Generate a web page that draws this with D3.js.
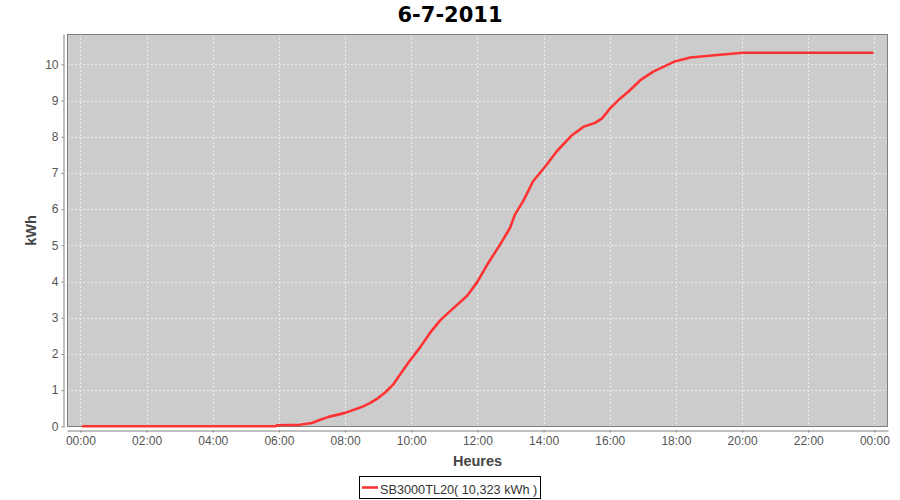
<!DOCTYPE html>
<html>
<head>
<meta charset="utf-8">
<script src="https://cdn.jsdelivr.net/npm/d3@7"></script>
<style>
  html, body { margin: 0; padding: 0; background: #ffffff; }
  svg { display: block; }
</style>
</head>
<body>
<div id="chart"></div>
<script>
// ---- data ----
const chartTitle = "6-7-2011";
const xLabel = "Heures";
const yLabel = "kWh";
const seriesName = "SB3000TL20( 10,323 kWh )";

const times = ["00:03","05:54","05:57","06:38","07:00","07:15","07:30","08:00","08:30","08:45",
  "09:00","09:13","09:27","09:40","09:55","10:16","10:34","10:52","11:11","11:41",
  "11:59","12:20","12:41","12:59","13:08","13:23","13:41","14:03","14:24","14:52",
  "15:13","15:34","15:46","16:01","16:19","16:34","16:56","17:19","17:56","18:26",
  "18:56","19:14","19:47","20:00","23:58"];
const energy = [0,0,0.03,0.04,0.09,0.18,0.26,0.37,0.53,0.64,
  0.78,0.94,1.15,1.44,1.76,2.18,2.58,2.92,3.19,3.60,
  3.97,4.52,5.02,5.48,5.85,6.22,6.77,7.18,7.60,8.05,
  8.28,8.39,8.51,8.79,9.06,9.25,9.57,9.80,10.07,10.19,
  10.23,10.26,10.30,10.32,10.323];
const yTicks = [0,1,2,3,4,5,6,7,8,9,10];

// ---- layout ----
const W = 900, H = 500;
const plot = { left: 67, right: 888, top: 34, bottom: 427 };
const axisOffset = 4;
const fontReg = "'Liberation Sans', Arial, sans-serif";
const fontBold = "'DejaVu Sans', sans-serif";

const day = "2011-07-06";
const parse = d3.timeParse("%Y-%m-%d %H:%M");
const data = times.map((t, i) => ({ t: parse(day + " " + t), v: energy[i] }));

const t0 = parse(day + " 00:00");
const x = d3.scaleTime()
  .domain([new Date(t0.getTime() - 0.405 * 3600e3), new Date(t0.getTime() + 24.41 * 3600e3)])
  .range([plot.left, plot.right]);
const y = d3.scaleLinear().domain([-0.02, 10.84]).range([plot.bottom, plot.top]);

const svg = d3.select("#chart").append("svg").attr("width", W).attr("height", H);
svg.append("rect").attr("width", W).attr("height", H).attr("fill", "#ffffff");

// plot background
svg.append("rect")
  .attr("x", plot.left).attr("y", plot.top)
  .attr("width", plot.right - plot.left).attr("height", plot.bottom - plot.top)
  .attr("fill", "#cccccc");

const xTickVals = d3.timeHour.every(2).range(t0, new Date(t0.getTime() + 24 * 3600e3 + 1));

// gridlines
const grid = svg.append("g").attr("stroke", "#f2f2f2").attr("stroke-width", 0.8)
  .attr("stroke-dasharray", "2,2");
grid.selectAll("line.vx").data(xTickVals).join("line")
  .attr("x1", d => Math.round(x(d)) + 0.5).attr("x2", d => Math.round(x(d)) + 0.5)
  .attr("y1", plot.top).attr("y2", plot.bottom);
grid.selectAll("line.hy").data(yTicks).join("line")
  .attr("y1", d => Math.round(y(d)) + 0.5).attr("y2", d => Math.round(y(d)) + 0.5)
  .attr("x1", plot.left).attr("x2", plot.right);

// plot outline
svg.append("rect")
  .attr("x", plot.left + 0.5).attr("y", plot.top + 0.5)
  .attr("width", plot.right - plot.left - 1).attr("height", plot.bottom - plot.top - 1)
  .attr("fill", "none").attr("stroke", "#808080").attr("stroke-width", 1);

// series line
const line = d3.line().x(d => x(d.t)).y(d => y(d.v)).curve(d3.curveLinear);
svg.append("path").datum(data)
  .attr("d", line)
  .attr("fill", "none")
  .attr("stroke", "#ff3333")
  .attr("stroke-width", 2.6)
  .attr("stroke-linejoin", "round");

// x axis
const xAxis = d3.axisBottom(x).tickValues(xTickVals).tickFormat(d3.timeFormat("%H:%M"))
  .tickSizeInner(2).tickSizeOuter(0).tickPadding(4);
const gx = svg.append("g").attr("transform", `translate(0,${plot.bottom + axisOffset - 0.5})`).call(xAxis);
gx.select(".domain").attr("stroke", "#808080");
gx.selectAll(".tick line").attr("stroke", "#808080");
gx.selectAll(".tick text").attr("fill", "#555555")
  .style("font-family", fontReg).style("font-size", "12px");

// y axis
const yAxis = d3.axisLeft(y).tickValues(yTicks).tickFormat(d3.format("d"))
  .tickSizeInner(2).tickSizeOuter(0).tickPadding(3);
const gy = svg.append("g").attr("transform", `translate(${plot.left - axisOffset + 0.5},0)`).call(yAxis);
gy.select(".domain").attr("stroke", "#808080");
gy.selectAll(".tick line").attr("stroke", "#808080");
gy.selectAll(".tick text").attr("fill", "#555555")
  .style("font-family", fontReg).style("font-size", "12px");

// title
svg.append("text").attr("x", 450).attr("y", 22).attr("text-anchor", "middle")
  .style("font-family", fontBold).style("font-weight", "bold").style("font-size", "21px")
  .attr("fill", "#000000").text(chartTitle);

// axis labels
svg.append("text").attr("x", (plot.left + plot.right) / 2).attr("y", 466).attr("text-anchor", "middle")
  .style("font-family", "'Liberation Sans', Arial, sans-serif").style("font-weight", "bold").style("font-size", "14.5px")
  .attr("fill", "#444444").text(xLabel);
svg.append("text")
  .attr("transform", `translate(36,${(plot.top + plot.bottom) / 2}) rotate(-90)`)
  .attr("text-anchor", "middle")
  .style("font-family", "'Liberation Sans', Arial, sans-serif").style("font-weight", "bold").style("font-size", "14.5px")
  .attr("fill", "#444444").text(yLabel);

// legend
const lg = svg.append("g");
lg.append("rect").attr("x", 359.5).attr("y", 476.5).attr("width", 181).attr("height", 22)
  .attr("fill", "#ffffff").attr("stroke", "#000000").attr("stroke-width", 1);
lg.append("line").attr("x1", 362).attr("x2", 378).attr("y1", 487.5).attr("y2", 487.5)
  .attr("stroke", "#ff3333").attr("stroke-width", 2.6);
lg.append("text").attr("x", 380).attr("y", 493.5)
  .style("font-family", fontReg).style("font-size", "12.7px")
  .attr("fill", "#333333").text(seriesName);
</script>
</body>
</html>
